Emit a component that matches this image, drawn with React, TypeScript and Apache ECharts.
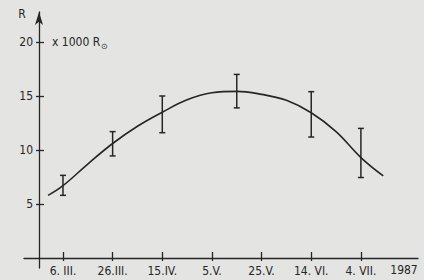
import React, { useEffect, useRef } from "react";
import * as echarts from "echarts";

// x: day of year 1987
const TICK_DAYS = [65, 85, 105, 125, 145, 165, 185];
const TICK_LABELS = ["6. III.", "26.III.", "15.IV.", "5.V.", "25.V.", "14. VI.", "4. VII."];
const Y_TICKS = [5, 10, 15, 20];

// observations with error bars (R in 1000 solar radii)
const OBS_DAYS = [65, 85, 105, 135, 165, 185];
const OBS_LOW = [5.8, 9.45, 11.6, 13.9, 11.2, 7.45];
const OBS_HIGH = [7.65, 11.7, 15.0, 17.0, 15.4, 12.0];

// fitted curve
const CURVE_DAYS = [59, 65, 75, 85, 95, 105, 115, 125, 135, 145, 155, 165, 175, 185, 194];
const CURVE_R = [5.8, 6.7, 8.7, 10.6, 12.2, 13.5, 14.65, 15.3, 15.43, 15.15, 14.6, 13.45, 11.7, 9.3, 7.6];

const INK = "#262626";
const FONT = "'DejaVu Sans Condensed', 'DejaVu Sans', sans-serif";

export default function App() {
  const ref = useRef<HTMLDivElement>(null);
  useEffect(() => {
    if (!ref.current) return;
    const chart = echarts.init(ref.current, null, { renderer: "svg" });
    const labelMap: Record<number, string> = {};
    TICK_DAYS.forEach((d, i) => (labelMap[d] = TICK_LABELS[i]));
    const xBase = {
      type: "value",
      min: 49.3,
      max: 208,
      position: "bottom",
      offset: -10,
      splitLine: { show: false },
    };
    const yBase = {
      type: "value",
      min: -0.93,
      max: 22.78,
      position: "left",
      offset: -15,
      splitLine: { show: false },
    };
    chart.setOption({
      animation: false,
      backgroundColor: "#e4e4e2",
      textStyle: { fontFamily: FONT },
      grid: { left: 24, right: 6, top: 12, bottom: 12, containLabel: false, outerBoundsMode: "none" },
      xAxis: [
        {
          ...xBase,
          axisLine: { show: true, onZero: false, lineStyle: { color: INK, width: 1.3 } },
          axisTick: { show: true, inside: true, length: 6, customValues: TICK_DAYS, lineStyle: { color: INK, width: 1.3 } },
          axisLabel: {
            show: true,
            customValues: TICK_DAYS,
            margin: 7,
            color: INK,
            fontSize: 12,
            fontFamily: FONT,
            formatter: (v: number) => labelMap[v] ?? "",
          },
        },
        {
          ...xBase,
          axisLine: { show: false, onZero: false },
          axisTick: { show: true, inside: false, length: 3, customValues: TICK_DAYS, lineStyle: { color: INK, width: 1.3 } },
          axisLabel: { show: false },
        },
      ],
      yAxis: [
        {
          ...yBase,
          axisLine: {
            show: true,
            onZero: false,
            symbol: ["none", "arrow"],
            symbolSize: [6, 13],
            lineStyle: { color: INK, width: 1.3 },
          },
          axisTick: { show: true, inside: true, length: 5, customValues: Y_TICKS, lineStyle: { color: INK, width: 1.3 } },
          axisLabel: {
            show: true,
            customValues: Y_TICKS,
            margin: 6,
            color: INK,
            fontSize: 12,
            fontFamily: FONT,
          },
        },
        {
          ...yBase,
          axisLine: { show: false, onZero: false },
          axisTick: { show: true, inside: false, length: 3, customValues: Y_TICKS, lineStyle: { color: INK, width: 1.3 } },
          axisLabel: { show: false },
        },
      ],
      graphic: [
        {
          type: "text",
          x: 22,
          y: 14,
          style: { text: "R", fill: INK, font: `12px ${FONT}`, align: "center", verticalAlign: "middle" },
        },
        {
          type: "text",
          x: 52,
          y: 42,
          style: {
            text: "x 1000 R{s|⊙}",
            fill: INK,
            font: `12px ${FONT}`,
            align: "left",
            verticalAlign: "middle",
            rich: { s: { fontSize: 8, fill: INK, padding: [8, 0, 0, 1] } },
          },
        },
        {
          type: "text",
          x: 404,
          y: 270,
          style: { text: "1987", fill: INK, font: `12px ${FONT}`, align: "center", verticalAlign: "middle" },
        },
      ],
      series: [
        {
          type: "line",
          xAxisIndex: 0,
          yAxisIndex: 0,
          data: CURVE_DAYS.map((d, i) => [d, CURVE_R[i]]),
          smooth: 0.4,
          showSymbol: false,
          lineStyle: { color: INK, width: 1.6 },
          silent: true,
        },
        {
          type: "custom",
          xAxisIndex: 0,
          yAxisIndex: 0,
          data: OBS_DAYS.map((d, i) => [d, OBS_LOW[i], OBS_HIGH[i]]),
          renderItem: (params: any, api: any) => {
            const lo = api.coord([api.value(0), api.value(1)]);
            const hi = api.coord([api.value(0), api.value(2)]);
            const w = 3;
            const st = { stroke: INK, lineWidth: 1.5 };
            return {
              type: "group",
              children: [
                { type: "line", shape: { x1: lo[0], y1: lo[1], x2: hi[0], y2: hi[1] }, style: st },
                { type: "line", shape: { x1: lo[0] - w, y1: lo[1], x2: lo[0] + w, y2: lo[1] }, style: st },
                { type: "line", shape: { x1: hi[0] - w, y1: hi[1], x2: hi[0] + w, y2: hi[1] }, style: st },
              ],
            };
          },
          silent: true,
        },
      ],
    });
    return () => chart.dispose();
  }, []);
  return (
    <div
      ref={ref}
      style={{ position: "fixed", left: 0, top: 0, width: 424, height: 280, background: "#e4e4e2" }}
    />
  );
}
